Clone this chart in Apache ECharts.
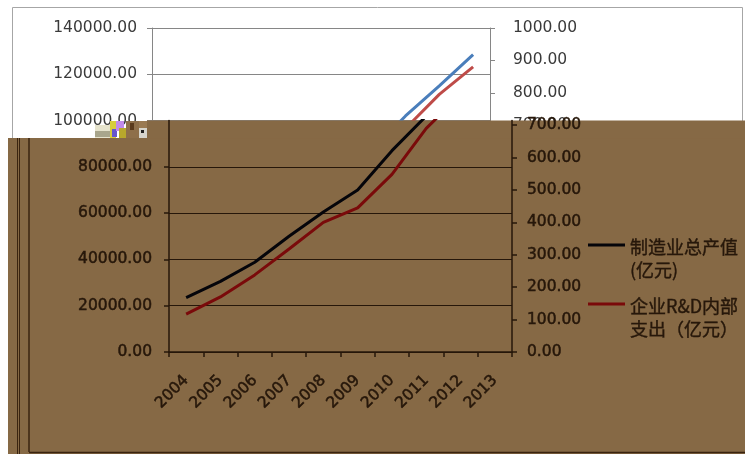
<!DOCTYPE html>
<html><head><meta charset="utf-8">
<script src="https://cdn.jsdelivr.net/npm/echarts@6/dist/echarts.min.js"></script>
<style>html,body{margin:0;padding:0;background:#fff}#c{width:745px;height:454px}</style>
</head><body><div id="c"></div><script>
const years = ['2004','2005','2006','2007','2008','2009','2010','2011','2012','2013'];
const totalOutput = [23500, 30500, 38800, 50000, 60500, 70000, 87000, 102000, 115000, 128500];
const rdSpend = [117, 170, 238, 318, 400, 445, 548, 690, 795, 880];
const seriesNames = ['制造业总产值(亿元)', '企业R&D内部支出（亿元）'];
const legendLines = [['制造业总产值', '(亿元)'], ['企业R&D内部', '支出（亿元）']];

const FONT = 'DejaVu Sans';
const CJK = '"Noto Sans CJK SC"';
const BROWN = '#866945';
const DARK = '#26170a';
const GRAY = '#868686';
const fmt = v => v.toFixed(2);

const chart = echarts.init(document.getElementById('c'), null, {renderer: 'canvas'});

const labelWhite = {fontFamily: FONT, fontSize: 15.5, color: '#3a3a3a'};
const labelBrown = {fontFamily: FONT, fontSize: 15.5, color: DARK, textBorderColor: DARK, textBorderWidth: 0.5};

const graphics = [
  {type: 'rect', z: 1, shape: {x: 12.5, y: 7.5, width: 730, height: 446}, style: {fill: 'none', stroke: '#a6a6a6', lineWidth: 1}},
  {type: 'rect', z: 10, shape: {x: 8, y: 138, width: 737, height: 316}, style: {fill: BROWN}},
  {type: 'rect', z: 10, shape: {x: 147, y: 120.6, width: 598, height: 18}, style: {fill: BROWN}},
  // glitch block
  {type: 'rect', z: 10, shape: {x: 95, y: 125, width: 17, height: 13}, style: {fill: '#e6e3cc'}},
  {type: 'rect', z: 10, shape: {x: 95, y: 131, width: 15, height: 6}, style: {fill: '#a9a68c'}},
  {type: 'rect', z: 10, shape: {x: 110, y: 121, width: 6, height: 17}, style: {fill: '#d6cd3c'}},
  {type: 'rect', z: 10, shape: {x: 112, y: 129, width: 5, height: 8}, style: {fill: '#6656cc'}},
  {type: 'rect', z: 10, shape: {x: 116, y: 121, width: 8, height: 10}, style: {fill: '#c18aea'}},
  {type: 'rect', z: 10, shape: {x: 119, y: 128, width: 7, height: 10}, style: {fill: '#b8a82c'}},
  {type: 'rect', z: 10, shape: {x: 126, y: 121, width: 13, height: 17}, style: {fill: '#8e6f4a'}},
  {type: 'rect', z: 10, shape: {x: 130, y: 123, width: 4, height: 7}, style: {fill: '#5a3a1c'}},
  {type: 'rect', z: 10, shape: {x: 139, y: 128, width: 8, height: 10}, style: {fill: '#d6d4cc'}},
  {type: 'rect', z: 10, shape: {x: 141, y: 130, width: 3, height: 3}, style: {fill: '#202020'}},
  {type: 'rect', z: 10, shape: {x: 139, y: 121, width: 8, height: 7}, style: {fill: '#9a7a52'}},
  // dark frame lines inside brown area
  {type: 'line', z: 11, shape: {x1: 17.5, y1: 138, x2: 17.5, y2: 454}, style: {stroke: '#3a2410', lineWidth: 1}},
  {type: 'line', z: 11, shape: {x1: 19.5, y1: 138, x2: 19.5, y2: 454}, style: {stroke: '#3a2410', lineWidth: 1}},
  {type: 'line', z: 11, shape: {x1: 29, y1: 138, x2: 29, y2: 452}, style: {stroke: '#3a2410', lineWidth: 1.5}},
  {type: 'line', z: 11, shape: {x1: 29, y1: 452.5, x2: 745, y2: 452.5}, style: {stroke: '#3a2410', lineWidth: 1.5}}
];

// legend (brown area)
const legendColors = ['#05050a', '#7a0a0a'];
const legendY = [245, 304];
legendLines.forEach((lines, i) => {
  graphics.push({type: 'line', z: 30, shape: {x1: 588, y1: legendY[i], x2: 625, y2: legendY[i]}, style: {stroke: legendColors[i], lineWidth: 3}});
  lines.forEach((t, j) => {
    graphics.push({type: 'text', z: 30, x: 630, y: legendY[i] + 2 + j * 23,
      style: {text: t, fill: DARK, font: '18px ' + CJK, stroke: DARK, lineWidth: 0.4, verticalAlign: 'middle'}});
  });
});

const option = {
  animation: false,
  backgroundColor: '#ffffff',
  grid: [
    {left: 152, top: 28, width: 338, height: 324},
    {left: 169, top: 120.57, width: 343, height: 231.43}
  ],
  xAxis: [
    {gridIndex: 0, type: 'category', data: years, boundaryGap: true,
     axisLine: {lineStyle: {color: GRAY}}, axisTick: {show: false}, axisLabel: {show: false}},
    {gridIndex: 1, type: 'category', data: years, boundaryGap: true, z: 20,
     axisLine: {lineStyle: {color: DARK, width: 1.5}},
     axisTick: {show: true, length: 5, lineStyle: {color: DARK, width: 1.5}},
     axisLabel: Object.assign({rotate: 45, margin: 26, interval: 0}, labelBrown)}
  ],
  yAxis: [
    {gridIndex: 0, type: 'value', position: 'left', min: 0, max: 140000, interval: 20000,
     axisLine: {show: true, lineStyle: {color: GRAY}},
     axisTick: {show: true, length: 5, lineStyle: {color: GRAY}},
     splitLine: {show: true, lineStyle: {color: GRAY, width: 1}},
     axisLabel: Object.assign({formatter: fmt, margin: 15}, labelWhite)},
    {gridIndex: 0, type: 'value', position: 'right', min: 0, max: 1000, interval: 100,
     axisLine: {show: true, lineStyle: {color: GRAY}},
     axisTick: {show: true, length: 5, lineStyle: {color: GRAY}},
     splitLine: {show: false},
     axisLabel: Object.assign({formatter: fmt, margin: 23}, labelWhite)},
    {gridIndex: 1, type: 'value', position: 'left', min: 0, max: 100000, interval: 20000, z: 20,
     axisLine: {show: true, lineStyle: {color: DARK, width: 1.5}},
     axisTick: {show: true, length: 5, lineStyle: {color: DARK, width: 1.5}},
     splitLine: {show: true, showMaxLine: false, lineStyle: {color: DARK, width: 1.2}},
     axisLabel: Object.assign({formatter: fmt, margin: 17, showMaxLabel: false}, labelBrown)},
    {gridIndex: 1, type: 'value', position: 'right', min: 0, max: 714.29, interval: 100, z: 20,
     axisLine: {show: true, lineStyle: {color: DARK, width: 1.5}},
     axisTick: {show: true, length: 5, lineStyle: {color: DARK, width: 1.5}},
     splitLine: {show: false},
     axisLabel: Object.assign({formatter: fmt, margin: 15, showMaxLabel: false}, labelBrown)}
  ],
  series: [
    {name: seriesNames[0] + ' (top)', type: 'line', xAxisIndex: 0, yAxisIndex: 0, data: totalOutput,
     symbol: 'none', z: 2, lineStyle: {color: '#4a7ebb', width: 3}, itemStyle: {color: '#4a7ebb'}},
    {name: seriesNames[1] + ' (top)', type: 'line', xAxisIndex: 0, yAxisIndex: 1, data: rdSpend,
     symbol: 'none', z: 2, lineStyle: {color: '#be4b48', width: 3}, itemStyle: {color: '#be4b48'}},
    {name: seriesNames[0], type: 'line', xAxisIndex: 1, yAxisIndex: 2, data: totalOutput,
     symbol: 'none', z: 25, lineStyle: {color: legendColors[0], width: 3}, itemStyle: {color: legendColors[0]}},
    {name: seriesNames[1], type: 'line', xAxisIndex: 1, yAxisIndex: 3, data: rdSpend,
     symbol: 'none', z: 25, lineStyle: {color: legendColors[1], width: 3}, itemStyle: {color: legendColors[1]}}
  ],
  graphic: {elements: graphics}
};
chart.setOption(option);
</script></body></html>
